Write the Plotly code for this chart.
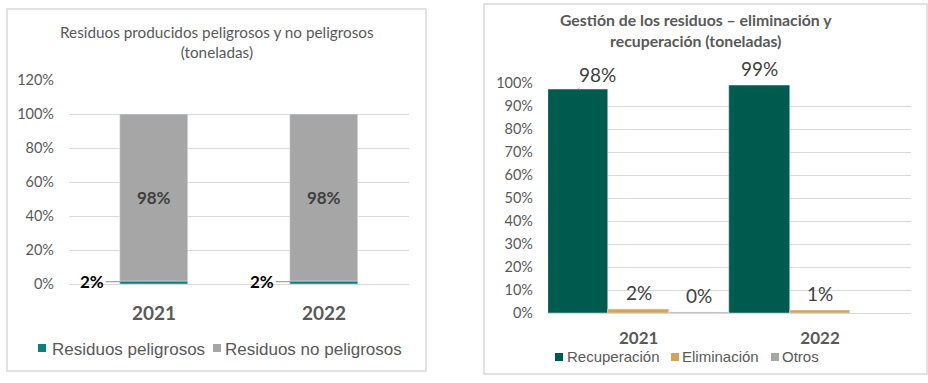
import plotly.graph_objects as go

W, H = 928, 383

# ---- data: left chart ----
years = ["2021", "2022"]
peligrosos = [0.016, 0.016]
no_peligrosos = [0.984, 0.984]
left_names = ["Residuos peligrosos", "Residuos no peligrosos"]
left_title = "Residuos producidos peligrosos y no peligrosos<br>(toneladas)"
left_ticks = [0, 0.2, 0.4, 0.6, 0.8, 1.0, 1.2]

# ---- data: right chart ----
recuperacion = [0.976, 0.99]
eliminacion = [0.017, 0.01]
otros = [0.004, None]
right_names = ["Recuperación", "Eliminación", "Otros"]
right_title = "Gestión de los residuos – eliminación y<br>recuperación (toneladas)"
right_ticks = [i / 10 for i in range(11)]

C_TEAL = "#0E8078"
C_GRAY = "#A6A6A6"
C_GREEN = "#005B4F"
C_ORANGE = "#D4A35E"
C_OTROS = "#A6A6A6"
TXT = "#595959"
GRID = "#D9D9D9"
CAL = "Lato, Carlito, Calibri, sans-serif"
ARIAL = "Liberation Sans, Arial, sans-serif"

fig = go.Figure()

# left stacked bars
fig.add_trace(go.Bar(
    x=years, y=peligrosos, name=left_names[0], marker_color=C_TEAL,
    width=0.4, xaxis="x", yaxis="y", hoverinfo="skip"))
fig.add_trace(go.Bar(
    x=years, y=no_peligrosos, base=peligrosos, name=left_names[1],
    marker_color=C_GRAY, width=0.4, xaxis="x", yaxis="y",
    text=[f"{v:.0%}" for v in no_peligrosos], textposition="inside",
    insidetextanchor="middle",
    textfont=dict(family=CAL, size=17, color="#404040", weight="bold"),
    hoverinfo="skip"))

# right grouped bars (explicit offsets)
bw = 1 / 3
right_series = [(right_names[0], recuperacion, C_GREEN, -0.5),
                (right_names[1], eliminacion, C_ORANGE, -0.5 + bw),
                (right_names[2], otros, C_OTROS, -0.5 + 2 * bw)]
for name, vals, col, off in right_series:
    fig.add_trace(go.Bar(
        x=years, y=vals, name=name, marker_color=col, width=bw, offset=off,
        xaxis="x2", yaxis="y2", hoverinfo="skip"))

annotations = []
# left "2%" labels with leader line (x given as category index)
for i, v in enumerate(peligrosos):
    annotations.append(dict(
        x=i, y=v, xref="x", yref="y", text=f"<b>{v:.0%}</b>",
        showarrow=True, arrowhead=0, arrowwidth=1.2, arrowcolor="#A6A6A6",
        ax=-62, ay=0, standoff=34,
        font=dict(family=CAL, size=17, color="#000000")))

# right labels
for name, vals, col, off in right_series:
    for i, v in enumerate(vals):
        if v is None:
            continue
        xc = i + off + bw / 2
        if name == right_names[0] and i == 0:
            annotations.append(dict(
                x=xc, y=v, xref="x2", yref="y2", text=f"{v:.0%}",
                showarrow=True, arrowhead=0, arrowwidth=1, arrowcolor="#A6A6A6",
                ax=19, ay=-14, standoff=0,
                font=dict(family=CAL, size=19, color="#404040")))
        else:
            annotations.append(dict(
                x=xc, y=v, xref="x2", yref="y2", text=f"{v:.0%}",
                showarrow=False, yshift=17,
                font=dict(family=CAL, size=19, color="#404040")))

# titles
annotations.append(dict(
    x=216.5 / W, y=1 - 41.5 / H, xref="paper", yref="paper", text=left_title,
    showarrow=False, xanchor="center", yanchor="middle",
    font=dict(family=CAL, size=15.3, color=TXT)))
annotations.append(dict(
    x=696 / W, y=1 - 29.5 / H, xref="paper", yref="paper",
    text="<b>" + right_title.replace("<br>", "</b><br><b>") + "</b>",
    showarrow=False, xanchor="center", yanchor="middle",
    font=dict(family=CAL, size=15.8, color=TXT)))

shapes = [
    dict(type="rect", xref="paper", yref="paper",
         x0=7 / W, x1=426 / W, y0=1 - 371 / H, y1=1 - 9 / H,
         line=dict(color=GRID, width=1.5), layer="below"),
    dict(type="rect", xref="paper", yref="paper",
         x0=484 / W, x1=927 / W, y0=1 - 374 / H, y1=1 - 4 / H,
         line=dict(color=GRID, width=1.5), layer="below"),
]

# manual legends (square marker + text)
left_leg = [(left_names[0], C_TEAL, 38, 52), (left_names[1], C_GRAY, 213, 225)]
for name, col, sx, tx in left_leg:
    shapes.append(dict(type="rect", xref="paper", yref="paper",
                       x0=sx / W, x1=(sx + 8) / W, y0=1 - 352 / H, y1=1 - 344 / H,
                       fillcolor=col, line=dict(width=0)))
    annotations.append(dict(x=tx / W, y=1 - 349 / H, xref="paper", yref="paper",
                            text=name, showarrow=False, xanchor="left",
                            yanchor="middle", xshift=-2,
                            font=dict(family=ARIAL, size=17, color=TXT)))
right_leg = [(right_names[0], C_GREEN, 555, 567),
             (right_names[1], C_ORANGE, 671, 682),
             (right_names[2], C_OTROS, 771, 782)]
for name, col, sx, tx in right_leg:
    shapes.append(dict(type="rect", xref="paper", yref="paper",
                       x0=sx / W, x1=(sx + 8) / W, y0=1 - 361 / H, y1=1 - 353 / H,
                       fillcolor=col, line=dict(width=0)))
    annotations.append(dict(x=tx / W, y=1 - 356.5 / H, xref="paper", yref="paper",
                            text=name, showarrow=False, xanchor="left",
                            yanchor="middle", xshift=-2,
                            font=dict(family=ARIAL, size=15, color=TXT)))

fig.update_layout(
    width=W, height=H, margin=dict(l=0, r=0, t=0, b=0, autoexpand=False),
    paper_bgcolor="white", plot_bgcolor="white",
    barmode="overlay", bargap=0, showlegend=False,
    annotations=annotations, shapes=shapes,
    xaxis=dict(domain=[69 / W, 409 / W], type="category", range=[-0.5, 1.5],
               showgrid=False, automargin=False,
               showline=True, linecolor=GRID, ticks="", ticklabelstandoff=12,
               tickfont=dict(family=CAL, size=19, color=TXT, weight="bold"),
               anchor="y"),
    yaxis=dict(domain=[1 - 284.3 / H, 1 - 80.3 / H], range=[0, 1.2001],
               tickvals=left_ticks, tickformat=".0%", showgrid=True,
               automargin=False,
               gridcolor=GRID, zeroline=False, ticks="", ticklabelstandoff=14,
               tickfont=dict(family=CAL, size=14.5, color=TXT), anchor="x"),
    xaxis2=dict(domain=[548 / W, 910.7 / W], type="category", range=[-0.5, 1.5],
                showgrid=False, automargin=False,
                showline=True, linecolor=GRID, ticks="", ticklabelstandoff=10,
                tickfont=dict(family=CAL, size=17, color=TXT, weight="bold"),
                anchor="y2"),
    yaxis2=dict(domain=[1 - 313 / H, 1 - 83.3 / H], range=[0, 1.0001],
                tickvals=right_ticks, tickformat=".0%", showgrid=True,
                automargin=False,
                gridcolor=GRID, zeroline=False, ticks="", ticklabelstandoff=14,
                tickfont=dict(family=CAL, size=14.5, color=TXT), anchor="x2"),
)

fig.write_html("out.html", config={"displayModeBar": False},
               post_script="document.body.style.margin='0px';")
